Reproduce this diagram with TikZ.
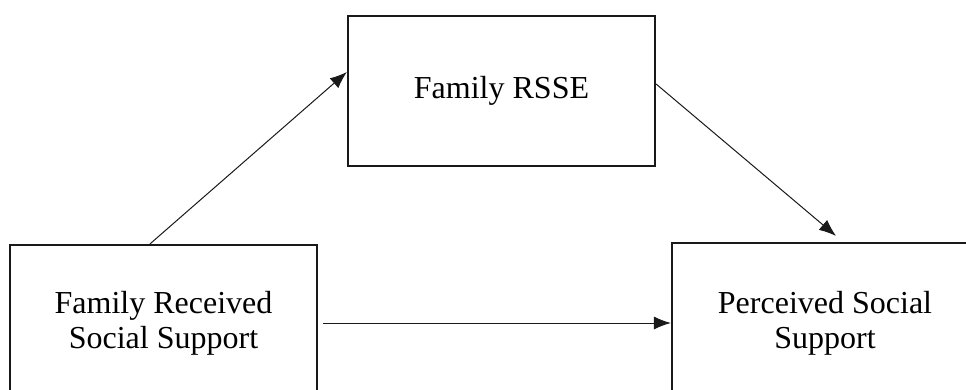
\documentclass[tikz,border=0pt]{standalone}
\usepackage{fontspec}
\setmainfont{Liberation Serif}
\usetikzlibrary{arrows.meta,calc}

\tikzset{
	box/.style={draw=black!90, line width=2.2pt, fill=white, align=center, font=\fontsize{32}{35}\selectfont, inner sep=0pt},
	link/.style={-{Latex[length=17pt,width=13pt]}, line width=1pt, black!90}
}

\begin{document}
\begin{tikzpicture}[x=1pt, y=1pt]
			% Fix the frame
			\useasboundingbox (0,0) rectangle (966,389);
			
			% Draw the three boxes
			\node[box, minimum width=307pt, minimum height=156pt] (recv) at (163.5,66) {Family Received\\Social Support};
			\node[box, minimum width=307pt, minimum height=150pt] (rsse) at (501.5,298) {Family RSSE};
			\node[box, minimum width=306pt, minimum height=160pt] (perc) at (825,66) {Perceived Social\\Support};
			
			% Draw the paths
			\draw[link] ($(recv.north)+(-13.5,0)$) -- ($(rsse.west)+(0,19)$);
			\draw[link] ($(rsse.east)+(0,7)$) -- ($(perc.north)+(11,6)$);
			\draw[link] ($(recv.east)+(5,0)$) -- (perc.west);
			
		\end{tikzpicture}
\end{document}
